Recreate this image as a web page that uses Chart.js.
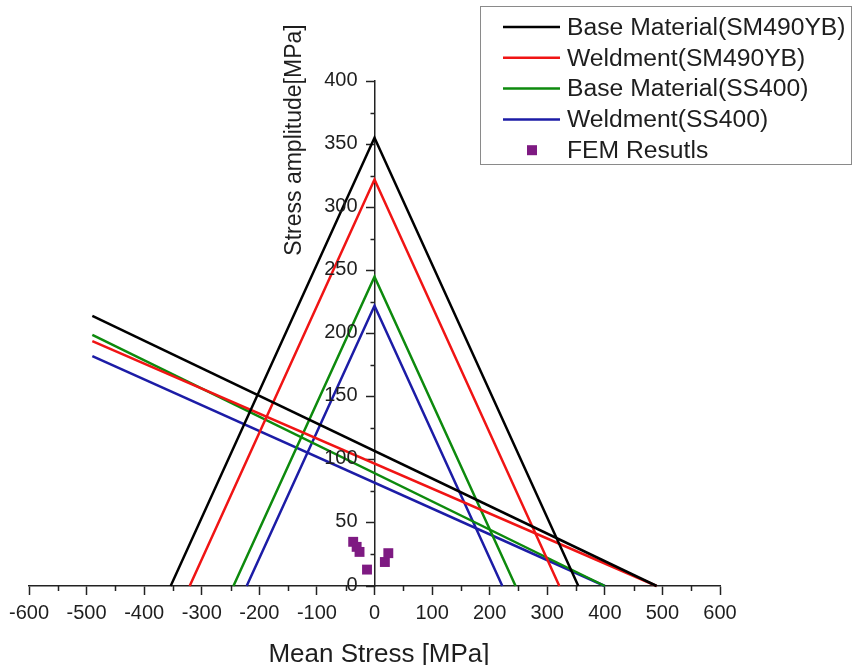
<!DOCTYPE html>
<html>
<head>
<meta charset="utf-8">
<script src="https://cdn.jsdelivr.net/npm/chart.js@4.4.1/dist/chart.umd.min.js"></script>
<style>
  html, body { margin: 0; padding: 0; background: #fff; }
  #wrap { width: 857px; height: 665px; }
</style>
</head>
<body>
<div id="wrap"><canvas id="chart" width="857" height="665"></canvas></div>
<script>
const SERIES = ["Base Material(SM490YB)", "Weldment(SM490YB)", "Base Material(SS400)", "Weldment(SS400)"];
const COLORS = ["#000000", "#f01414", "#0d8a0d", "#1c1ca6"];

// triangle per material: amplitude at mean 0, and mean stress where it reaches 0 (both sides)
const triApex = [355, 322, 245, 222];
const triBase = [354, 321, 245, 222];

// long straight line per material
const lineStartX = [-490, -490, -490, -490];
const lineStartY = [214, 194, 199, 182];
const lineEndX = [490, 490, 400, 400];

const femLabel = "FEM Resutls";
const femX = [-37, -31, -26, -13, 18, 24];
const femY = [35, 31, 27, 13, 19, 26];

const xTickValues = [-600, -500, -400, -300, -200, -100, 0, 100, 200, 300, 400, 500, 600];
const yTickValues = [0, 50, 100, 150, 200, 250, 300, 350, 400];
const xTitle = "Mean Stress [MPa]";
const yTitle = "Stress amplitude[MPa]";

const FONT = "'Liberation Sans', Arial, sans-serif";
const AXIS = "#222222";
const TEXT = "#1e1e1e";
const FEM_COLOR = "#7e1a82";

const datasets = [];
SERIES.forEach((name, i) => {
  const line = { label: name, borderColor: COLORS[i], backgroundColor: COLORS[i], borderWidth: 2.5,
                 showLine: true, pointRadius: 0, tension: 0, clip: 6 };
  datasets.push({ ...line, data: [{ x: -triBase[i], y: 0 }, { x: 0, y: triApex[i] }, { x: triBase[i], y: 0 }] });
  datasets.push({ ...line, data: [{ x: lineStartX[i], y: lineStartY[i] }, { x: lineEndX[i], y: 0 }] });
});
datasets.push({
  label: femLabel,
  data: femX.map((x, k) => ({ x, y: femY[k] })),
  showLine: false, pointStyle: "rect", pointRadius: 7, borderWidth: 0,
  backgroundColor: FEM_COLOR, clip: 6,
});

// y labels beside the centred axis, minor ticks, axis titles and the boxed legend
const extras = {
  id: "extras",
  afterDraw(chart) {
    const { ctx, scales: { x, y } } = chart;
    const x0 = x.getPixelForValue(0);
    const yb = y.getPixelForValue(0);
    ctx.save();
    ctx.strokeStyle = AXIS;
    ctx.lineWidth = 1.5;
    ctx.beginPath();
    for (let i = 0; i < xTickValues.length - 1; i++) {
      const px = Math.round(x.getPixelForValue((xTickValues[i] + xTickValues[i + 1]) / 2)) + 0.5;
      ctx.moveTo(px, yb); ctx.lineTo(px, yb + 5);
    }
    for (let i = 0; i < yTickValues.length - 1; i++) {
      const py = Math.round(y.getPixelForValue((yTickValues[i] + yTickValues[i + 1]) / 2)) + 0.5;
      ctx.moveTo(x0, py); ctx.lineTo(x0 - 4, py);
    }
    ctx.stroke();

    ctx.fillStyle = TEXT;
    ctx.font = "20px " + FONT;
    ctx.textAlign = "right";
    ctx.textBaseline = "middle";
    yTickValues.forEach((v) => {
      ctx.fillText(String(v), x0 - 17, y.getPixelForValue(v) - 1);
    });

    ctx.font = "26px " + FONT;
    ctx.textAlign = "center";
    ctx.textBaseline = "alphabetic";
    ctx.fillText(xTitle, 379, 662);

    ctx.save();
    ctx.translate(301, 140);
    ctx.rotate(-Math.PI / 2);
    ctx.font = "23px " + FONT;
    ctx.fillText(yTitle, 0, 0);
    ctx.restore();

    // legend
    ctx.strokeStyle = "#8a8a8a";
    ctx.lineWidth = 1;
    ctx.strokeRect(480.5, 6.5, 371, 158);
    ctx.font = "24.7px " + FONT;
    ctx.textAlign = "left";
    ctx.textBaseline = "middle";
    const rowY = (k) => 27 + k * 30.8;
    SERIES.forEach((name, i) => {
      const ry = rowY(i);
      ctx.strokeStyle = COLORS[i];
      ctx.lineWidth = 2.5;
      ctx.beginPath(); ctx.moveTo(503, ry); ctx.lineTo(560, ry); ctx.stroke();
      ctx.fillStyle = TEXT;
      ctx.fillText(name, 567, ry + 1);
    });
    const fy = rowY(4);
    ctx.fillStyle = FEM_COLOR;
    ctx.fillRect(527, fy - 5, 10, 10);
    ctx.fillStyle = TEXT;
    ctx.fillText(femLabel, 567, fy + 1);
    ctx.restore();
  },
};

new Chart(document.getElementById("chart"), {
  type: "scatter",
  data: { datasets },
  options: {
    responsive: false,
    animation: false,
    events: [],
    layout: { padding: { left: 29, right: 137, top: 81, bottom: 0 } },
    plugins: { legend: { display: false }, tooltip: { enabled: false } },
    scales: {
      x: {
        type: "linear", position: "bottom", min: -600, max: 600,
        afterBuildTicks: (s) => { s.ticks = xTickValues.map((v) => ({ value: v })); },
        afterFit: (s) => { s.height = 79; },
        grid: { drawOnChartArea: false, drawTicks: true, tickLength: 9, tickWidth: 1.5, tickColor: AXIS },
        border: { display: true, color: AXIS, width: 1.5 },
        ticks: { color: TEXT, font: { family: FONT, size: 20 }, padding: 6, maxRotation: 0, autoSkip: false },
      },
      y: {
        type: "linear", position: { x: 0 }, min: 0, max: 400,
        afterBuildTicks: (s) => { s.ticks = yTickValues.map((v) => ({ value: v })); },
        grid: { drawOnChartArea: false, drawTicks: true, tickLength: 8, tickWidth: 1.5, tickColor: AXIS },
        border: { display: true, color: AXIS, width: 1.5 },
        ticks: { display: false },
      },
    },
  },
  plugins: [extras],
});
</script>
</body>
</html>
